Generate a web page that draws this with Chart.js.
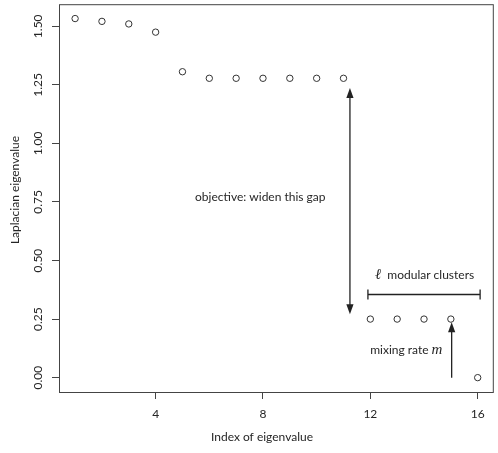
<!DOCTYPE html>
<html><head><meta charset="utf-8">
<script src="https://cdn.jsdelivr.net/npm/chart.js@4"></script>
<style>html,body{margin:0;padding:0;background:#fff}#wrap{width:498px;height:453px}</style>
</head><body><div id="wrap"><canvas id="c" width="498" height="453"></canvas></div>
<script>
const indices = [1,2,3,4,5,6,7,8,9,10,11,12,13,14,15,16];
const eigenvalues = [1.533,1.521,1.510,1.475,1.306,1.278,1.278,1.278,1.278,1.278,1.278,0.25,0.25,0.25,0.25,0.0];
const xTicks = [4,8,12,16];
const yTicks = [0,0.25,0.5,0.75,1.0,1.25,1.5];
const yTickLabels = ['0.00','0.25','0.50','0.75','1.00','1.25','1.50'];
const xTitle = 'Index of eigenvalue';
const yTitle = 'Laplacian eigenvalue';
const gapArrow = [11.24, 0.271, 1.237];      // x, yFrom, yTo (double-headed)
const mixArrow = [15.03, 0.0, 0.237];        // x, yFrom, yTo (single head at top)
const clusterBracket = [11.91, 16.09, 0.359]; // xFrom, xTo, y
const gapText = ['objective: widen this gap', 7.9, 0.771];
const clusterText = ['ℓ', '  modular clusters', 14.02, 0.436];
const mixText = ['mixing rate ', 'm', 13.34, 0.119];

const FONT = 'Lato, "Open Sans", sans-serif';
const INK = '#262626';
const LINE = '#444';

function arrowHead(ctx, x, y, dir) {
  const L = 10, W = 3.6;
  ctx.beginPath();
  ctx.moveTo(x, y);
  ctx.lineTo(x - W, y - dir * L);
  ctx.lineTo(x + W, y - dir * L);
  ctx.closePath();
  ctx.fill();
}

const decor = {
  id: 'decor',
  afterDraw(chart) {
    const ctx = chart.ctx, a = chart.chartArea, xs = chart.scales.x, ys = chart.scales.y;
    ctx.save();
    // box
    ctx.strokeStyle = LINE; ctx.lineWidth = 1;
    ctx.strokeRect(a.left + 0.5, a.top + 0.5, a.right - a.left - 1, a.bottom - a.top);
    // y tick labels, rotated
    ctx.fillStyle = INK;
    ctx.font = '12px ' + FONT;
    ctx.textAlign = 'center'; ctx.textBaseline = 'middle';
    yTicks.forEach((v, i) => {
      ctx.save();
      ctx.translate(38, ys.getPixelForValue(v));
      ctx.rotate(-Math.PI / 2);
      ctx.fillText(yTickLabels[i], 0, 0);
      ctx.restore();
    });
    // axis titles
    ctx.font = '12px ' + FONT;
    ctx.fillText(xTitle, 262, 437);
    ctx.save(); ctx.translate(15, 190); ctx.rotate(-Math.PI / 2); ctx.fillText(yTitle, 0, 0); ctx.restore();

    // annotations
    ctx.strokeStyle = '#222'; ctx.fillStyle = '#222'; ctx.lineWidth = 1.3;
    let x = xs.getPixelForValue(gapArrow[0]);
    let y0 = ys.getPixelForValue(gapArrow[1]), y1 = ys.getPixelForValue(gapArrow[2]);
    ctx.beginPath(); ctx.moveTo(x, y0 - 4); ctx.lineTo(x, y1 + 4); ctx.stroke();
    arrowHead(ctx, x, y0, 1); arrowHead(ctx, x, y1, -1);

    x = xs.getPixelForValue(mixArrow[0]);
    y0 = ys.getPixelForValue(mixArrow[1]); y1 = ys.getPixelForValue(mixArrow[2]);
    ctx.beginPath(); ctx.moveTo(x, y0); ctx.lineTo(x, y1 + 4); ctx.stroke();
    arrowHead(ctx, x, y1, -1);

    const bx0 = xs.getPixelForValue(clusterBracket[0]), bx1 = xs.getPixelForValue(clusterBracket[1]);
    const by = Math.round(ys.getPixelForValue(clusterBracket[2])) + 0.5;
    ctx.beginPath();
    ctx.moveTo(bx0, by); ctx.lineTo(bx1, by);
    ctx.moveTo(bx0, by - 5); ctx.lineTo(bx0, by + 5);
    ctx.moveTo(bx1, by - 5); ctx.lineTo(bx1, by + 5);
    ctx.stroke();

    // texts
    ctx.fillStyle = INK; ctx.textBaseline = 'middle';
    ctx.font = '12px ' + FONT; ctx.textAlign = 'center';
    ctx.fillText(gapText[0], xs.getPixelForValue(gapText[1]), ys.getPixelForValue(gapText[2]));

    function mixed(parts, cx, cy) {
      let total = 0;
      parts.forEach(p => { ctx.font = p[1]; p.w = ctx.measureText(p[0]).width; total += p.w; });
      let sx = cx - total / 2;
      ctx.textAlign = 'left';
      parts.forEach(p => { ctx.font = p[1]; ctx.fillText(p[0], sx, cy); sx += p.w; });
    }
    mixed([[clusterText[0], 'italic 15px "DejaVu Serif", serif'], [clusterText[1], '12px ' + FONT]],
      xs.getPixelForValue(clusterText[2]), ys.getPixelForValue(clusterText[3]));
    mixed([[mixText[0], '12px ' + FONT], [mixText[1], 'italic 15px "Liberation Serif", serif']],
      xs.getPixelForValue(mixText[2]), ys.getPixelForValue(mixText[3]));
    ctx.restore();
  }
};

new Chart(document.getElementById('c'), {
  type: 'scatter',
  data: {
    datasets: [{
      data: indices.map((v, i) => ({ x: v, y: eigenvalues[i] })),
      pointStyle: 'circle', pointRadius: 3.2, pointHoverRadius: 3.2,
      pointBackgroundColor: 'rgba(0,0,0,0)', pointBorderColor: '#333', pointBorderWidth: 1,
      showLine: false
    }]
  },
  options: {
    responsive: false, animation: false, devicePixelRatio: 1,
    layout: { padding: { top: 1, right: 1.5, left: 0, bottom: 0 } },
    plugins: { legend: { display: false }, tooltip: { enabled: false } },
    scales: {
      x: {
        type: 'linear', min: 0.4, max: 16.6,
        afterBuildTicks: s => { s.ticks = xTicks.map(v => ({ value: v })); },
        afterFit: s => { s.height = 61; },
        grid: { drawOnChartArea: false, drawTicks: true, tickLength: 7, color: LINE, lineWidth: 1 },
        border: { display: false },
        ticks: { color: INK, font: { family: FONT, size: 12 }, padding: 8, maxRotation: 0, minRotation: 0 }
      },
      y: {
        type: 'linear', min: -0.0613, max: 1.5943,
        afterBuildTicks: s => { s.ticks = yTicks.map(v => ({ value: v })); },
        afterFit: s => { s.width = 59; },
        grid: { drawOnChartArea: false, drawTicks: true, tickLength: 7, color: LINE, lineWidth: 1 },
        border: { display: false },
        ticks: { display: false }
      }
    }
  },
  plugins: [decor]
});
</script></body></html>
